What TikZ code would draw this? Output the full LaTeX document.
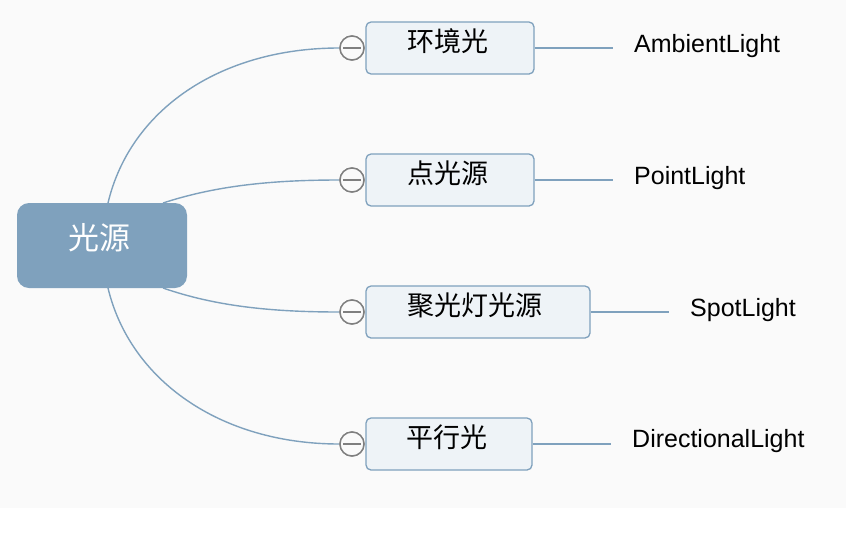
\documentclass[tikz,border=0pt]{standalone}
\usepackage{fontspec}
\setmainfont{Liberation Sans}
\newfontfamily\cjk{Noto Sans CJK SC}
\definecolor{rootblue}{HTML}{7FA1BD}
\definecolor{boxfill}{HTML}{EEF3F7}
\definecolor{bg}{HTML}{FAFAFA}
\definecolor{foldgray}{HTML}{7F7F7F}
\tikzset{
  rootbox/.style={draw=none, fill=rootblue, rounded corners=12pt, minimum width=170pt, minimum height=85pt, inner sep=0pt},
  topicbox/.style={draw=rootblue, line width=1.3pt, fill=boxfill, rounded corners=5pt, minimum height=52pt, inner sep=0pt},
  cjktext/.style={font=\cjk\fontsize{27}{32}\selectfont, text=black, inner sep=0pt},
  roottext/.style={font=\cjk\fontsize{31}{36}\selectfont, text=white, inner sep=0pt},
  lbl/.style={font=\fontsize{25}{29}\selectfont, text=black, anchor=west, inner sep=0pt},
  conn/.style={draw=rootblue, line width=1.4pt},
  fold/.style={circle, draw=foldgray, line width=1.4pt, fill=bg, minimum size=24pt, inner sep=0pt},
  foldbar/.style={draw=foldgray, line width=1.6pt}
}
\begin{document}
\begin{tikzpicture}[x=1pt, y=-1pt]
\useasboundingbox (0,0) rectangle (846,544);
\fill[bg] (0,0) rectangle (846,508);

% root
\node[rootbox] (root) at (102,245.5) {};
\node[roottext] (roott) at (99.5,238) {光源};

% connector anchor points on root
\coordinate (r1) at (108,203);
\coordinate (r2) at (163,203);
\coordinate (r3) at (163,288);
\coordinate (r4) at (108,288);

% topics
\node[topicbox, minimum width=168pt] (n1) at (450,48) {};
\node[topicbox, minimum width=168pt] (n2) at (450,180) {};
\node[topicbox, minimum width=224pt] (n3) at (478,312) {};
\node[topicbox, minimum width=166pt] (n4) at (449,444) {};

\node[cjktext] (t1) at (448,41.5) {环境光};
\node[cjktext] (t2) at (448,173.5) {点光源};
\node[cjktext] (t3) at (475,305.5) {聚光灯光源};
\node[cjktext] (t4) at (447,437.5) {平行光};

% fold circles
\node[fold] (f1) at (352,48) {};
\node[fold] (f2) at (352,180) {};
\node[fold] (f3) at (352,312) {};
\node[fold] (f4) at (352,444) {};

% curves from root to fold circles
\draw[conn] (r1) .. controls (130,110) and (220,48) .. (f1.west);
\draw[conn] (r2) .. controls (215,186) and (270,180) .. (f2.west);
\draw[conn] (r3) .. controls (215,306) and (270,312) .. (f3.west);
\draw[conn] (r4) .. controls (130,380) and (220,444) .. (f4.west);

% redraw circles on top
\node[fold] at (f1) {};
\node[fold] at (f2) {};
\node[fold] at (f3) {};
\node[fold] at (f4) {};
\foreach \f in {f1,f2,f3,f4}{
  \draw[foldbar] ([xshift=-9pt]\f.center) -- ([xshift=9pt]\f.center);
}

% right-hand labels
\coordinate (e1) at (613,48);
\coordinate (e2) at (613,180);
\coordinate (e3) at (669,312);
\coordinate (e4) at (611,444);
\draw[conn] (n1.east) -- (e1);
\draw[conn] (n2.east) -- (e2);
\draw[conn] (n3.east) -- (e3);
\draw[conn] (n4.east) -- (e4);

\node[lbl] (l1) at (634,46) {AmbientLight};
\node[lbl] (l2) at (634,178) {PointLight};
\node[lbl] (l3) at (690,310) {SpotLight};
\node[lbl] (l4) at (632,441.5) {DirectionalLight};
\end{tikzpicture}
\end{document}
